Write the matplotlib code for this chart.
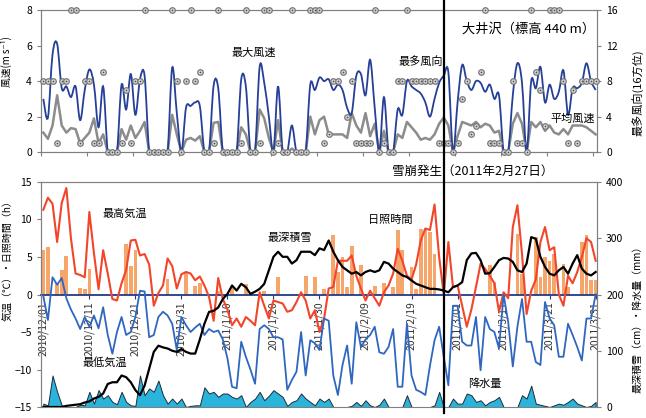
import numpy as np
import matplotlib
matplotlib.use('Agg')
import matplotlib.pyplot as plt
from matplotlib import transforms
from matplotlib.lines import Line2D
from matplotlib.path import Path
from matplotlib.patches import PathPatch

plt.rcParams['font.family'] = ['Noto Sans CJK JP', 'DejaVu Sans']

# daily data 2010/12/01 - 2011/3/31 (121 days)
days = np.arange(121)
date_labels = ['2010/12/01', '2010/12/11', '2010/12/21', '2010/12/31', '2011/1/10',
               '2011/1/20', '2011/1/30', '2011/2/09', '2011/2/19', '2011/3/01',
               '2011/3/11', '2011/3/21', '2011/3/31']
avalanche_day = 87

# max wind speed (m/s)
wmax = [3.0, 1.95, 5.5, 6.1, 3.6, 3.7, 3.1, 3.7, 1.8, 3.5,
        4.65, 3.8, 1.4, 3.7, 0, 0, 0, 3.8, 2.4, 4.4,
        2.1, 4.1, 4.3, 0, 0, 0, 0, 0, 4.75, 2.2,
        0, 2.5, 2.6, 2.8, 2.6, 0, 0, 3.75, 3.6, 0,
        0, 0, 0, 4.1, 3.7, 0, 0, 4.8, 3.9, 2.0,
        0, 3.7, 0, 0, 1.5, 0, 0, 0, 3.8, 3.5,
        4.2, 4.0, 4.1, 3.5, 3.8, 3.5, 2.5, 2.2, 4.3, 4.4,
        3.2, 5.2, 2.5, 0, 3.1, 0, 0, 2.4, 2.1, 4.0,
        3.7, 3.5, 3.3, 2.8, 2.0, 3.0, 3.9, 4.3, 4.5, 0,
        2.8, 4.9, 4.0, 3.5, 4.0, 3.9, 3.4, 3.8, 3.0, 3.2,
        0, 0, 3.2, 5.0, 3.9, 0, 4.0, 3.6, 4.8, 2.8,
        3.8, 3.0, 3.4, 4.6, 2.1, 3.6, 3.6, 3.9, 5.0, 4.0,
        3.5]
# mean wind speed (m/s)
wavg = [1.1, 0.75, 1.5, 3.2, 1.5, 1.1, 1.35, 1.3, 0.5, 0.8,
        1.1, 1.9, 0.5, 1.0, 0, 0, 0, 1.3, 0.7, 1.5,
        0.8, 1.2, 1.7, 0, 0, 0, 0, 0, 2.1, 1.0,
        0, 0.7, 0.8, 0.65, 0.9, 0, 0, 1.65, 1.7, 0,
        0, 0, 0, 1.4, 1.0, 0, 0, 2.4, 1.9, 0.8,
        0, 1.8, 0, 0, 0.2, 0, 0, 0, 2.0, 1.0,
        1.8, 2.0, 1.0, 1.0, 1.0, 1.0, 0.8, 2.2, 1.5, 1.1,
        2.2, 0.9, 1.6, 0, 1.2, 0, 0, 1.0, 0.8, 1.7,
        1.4, 1.1, 0.7, 0.8, 0.7, 1.0, 1.6, 1.95, 1.5, 0,
        0.9, 1.7, 1.6, 1.5, 1.7, 1.4, 1.6, 1.5, 1.1, 1.2,
        0, 0, 1.6, 2.2, 1.6, 0, 1.7, 1.4, 1.7, 1.2,
        1.5, 1.1, 1.0, 1.3, 1.0, 1.5, 1.5, 1.5, 1.4, 1.2,
        1.0]
# most frequent wind direction (16 points)
wdir = [8, 8, 8, 1, 8, 8, 16, 16, 1, 8,
        8, 1, 1, 9, 0, 0, 0, 1, 7, 1,
        8, 8, 16, 0, 0, 0, 0, 0, 16, 8,
        0, 8, 16, 8, 9, 0, 0, 1, 16, 0,
        0, 0, 0, 1, 16, 0, 0, 1, 16, 16,
        0, 1, 0, 0, 16, 0, 0, 0, 16, 16,
        16, 1, 2, 8, 8, 9, 4, 8, 1, 1,
        1, 1, 16, 0, 1, 0, 0, 8, 8, 16,
        8, 8, 8, 8, 8, 8, 1, 1, 1, 0,
        1, 6, 8, 2, 3, 9, 16, 1, 1, 1,
        0, 0, 8, 1, 1, 0, 16, 9, 7, 3,
        16, 16, 16, 8, 1, 7, 1, 8, 8, 8,
        8]
# max / min temperature (C)
tmax = [11.3, 12.9, 12.1, 7.0, 12.2, 14.2, 7.5, 2.8, 2.6, 2.3,
        11.0, 5.5, 0.7, 5.9, 2.8, -0.6, -0.8, 1.5, 3.3, 7.2,
        7.3, 5.2, 5.4, 4.0, -1.5, 0.2, 1.2, 4.8, 3.8, 0.8,
        2.7, 3.0, 2.8, 1.9, 2.4, 1.2, -0.3, -3.5, 2.2, -0.6,
        -2.0, -4.1, -3.2, -4.3, -3.0, -3.5, -4.1, 0.3, -1.5, -3.2,
        -0.8, -1.0, -1.2, -2.3, -2.1, -1.0, 0.3, -0.8, -3.2, -2.1,
        -5.0, -3.2, 0.8, 1.0, 4.5, 4.5, 4.5, 5.2, 2.5, 0.8,
        -0.8, 0.5, -0.5, -1.5, 0.3, 1.2, 2.8, 6.1, 4.5, 2.5,
        2.0, 4.0, 7.2, 8.8, 8.6, 12.0, 5.0, 0.0, 7.0, 1.0,
        1.2, -1.5, -4.3, -2.0, 1.0, 4.1, 3.4, 2.5, 1.5, -2.3,
        0.3, -0.5, 9.0, 11.9, 5.4, -2.6, 0.5, 2.0, 7.0, 9.0,
        5.9, 6.3, 0.0, -1.5, 2.5, 1.5, 3.0, 5.0, 7.5, 7.0,
        4.5]
tmin = [-0.2, -3.4, 2.3, 1.3, 2.2, -0.5, -2.0, -3.2, -4.6, -3.0,
        -4.3, -2.8, -4.5, -1.7, -5.4, -7.9, -5.0, -3.0, -5.4, -5.0,
        -3.0, 0.5, 0.4, -5.7, -5.4, -3.0, -2.3, -2.8, -3.9, -7.4,
        -3.0, -4.1, -5.0, -4.4, -3.9, -5.4, -4.6, -5.0, -4.8, -6.0,
        -8.5, -12.3, -12.5, -6.3, -8.3, -10.0, -11.9, -4.6, -4.1, -4.6,
        -5.7, -5.7, -6.0, -12.7, -11.4, -10.3, -5.0, -10.8, -6.1, -6.5,
        -7.4, -3.2, -3.5, -10.8, -13.4, -9.4, -6.8, -11.9, -3.7, -7.0,
        -6.0, -5.4, -4.3, -7.7, -7.9, -7.0, -4.6, -12.3, -12.3, -3.9,
        -10.8, -12.7, -13.0, -13.4, -9.5, -6.1, -4.3, -8.3, -12.1, -1.5,
        -1.5, -6.3, -6.8, -6.8, -3.0, -10.1, -3.0, -4.6, -5.0, -7.2,
        0.0, -3.7, -9.6, -4.3, -0.6, -6.3, -6.3, -9.0, -9.4, -1.0,
        -3.2, -4.1, -8.3, -8.3, -3.9, -5.4, -7.0, -8.8, -3.2, -3.2,
        0.0]
# sunshine duration (h)
sun = [6.0, 6.3, 0, 1.5, 3.3, 5.2, 0, 0, 0.9, 0.7,
       3.4, 0, 0, 0, 0, 0, 0, 0, 6.7, 3.8,
       5.9, 0, 0, 0, 0, 0, 0, 2.1, 0, 0,
       0, 2.9, 0, 1.1, 1.6, 0, 0, 0, 0.5, 0,
       0, 1.2, 0, 0, 1.4, 0, 0, 0, 0.5, 0,
       0, 2.3, 0, 0, 0, 0, 0, 2.5, 0, 2.3,
       0, 0.8, 0, 7.9, 3.0, 5.0, 1.0, 6.4, 0, 3.9,
       0, 0, 1.2, 0, 1.6, 0, 1.0, 8.6, 5.9, 0,
       3.7, 0.8, 8.7, 8.6, 8.3, 5.4, 0, 0, 0, 0,
       0, 0, 0, 0, 0, 0, 0, 3.9, 1.7, 0,
       0, 0, 0, 8.1, 2.8, 0, 0, 7.7, 2.3, 5.0,
       4.5, 5.4, 0, 4.1, 1.0, 0, 0, 7.0, 7.9, 1.9,
       1.9]
# max snow depth (cm)
snow = [0, 0, 0, 0, 0, 2, 3, 4, 5, 8,
        10, 15, 18, 24, 41, 44, 44, 56, 53, 44,
        30, 21, 38, 68, 98, 109, 106, 104, 100, 98,
        103, 98, 95, 95, 120, 148, 169, 171, 177, 192,
        201, 216, 207, 219, 213, 201, 205, 210, 219, 243,
        267, 276, 267, 267, 255, 261, 276, 276, 276, 270,
        282, 279, 296, 276, 261, 249, 243, 237, 240, 234,
        240, 243, 240, 243, 258, 255, 246, 240, 234, 231,
        225, 219, 216, 213, 210, 210, 209, 207, 204, 213,
        216, 222, 261, 273, 274, 261, 237, 238, 249, 261,
        265, 264, 258, 243, 240, 255, 302, 299, 267, 249,
        237, 234, 243, 249, 237, 255, 270, 246, 237, 234,
        240]
# precipitation (mm)
prec = [6, 3, 56, 27, 3, 0, 0, 0, 4, 3,
        27, 6, 30, 15, 21, 9, 5, 27, 9, 3,
        2, 56, 21, 33, 27, 47, 21, 6, 15, 6,
        15, 0, 2, 3, 3, 35, 24, 27, 18, 24,
        24, 18, 15, 21, 0, 9, 15, 27, 12, 20,
        30, 24, 18, 2, 9, 12, 24, 15, 9, 3,
        15, 9, 15, 0, 0, 0, 0, 2, 9, 2,
        12, 3, 0, 4, 15, 0, 0, 0, 0, 21,
        0, 0, 0, 0, 0, 3, 27, 0, 0, 15,
        6, 6, 24, 21, 9, 12, 3, 9, 12, 18,
        0, 0, 0, 0, 21, 15, 38, 6, 4, 2,
        0, 3, 6, 4, 9, 15, 6, 3, 0, 2,
        9]


def smooth_path(x, y):
    # Excel-style smoothed line: Catmull-Rom segments as cubic Beziers through the points
    pts = np.column_stack([x, y]).astype(float)
    n = len(pts)
    verts = [pts[0]]
    codes = [Path.MOVETO]
    for i in range(n - 1):
        p0 = pts[i - 1] if i > 0 else pts[i]
        p1, p2 = pts[i], pts[i + 1]
        p3 = pts[i + 2] if i + 2 < n else pts[i + 1]
        verts += [p1 + (p2 - p0) / 6, p2 - (p3 - p1) / 6, p2]
        codes += [Path.CURVE4] * 3
    return Path(verts, codes)


frame = '#808080'
fig = plt.figure(figsize=(6.46, 4.18), dpi=100)

# ---- wind panel
ax1 = fig.add_axes([0.0635, 0.636, 0.8607, 0.340])
ax1.plot(days, wavg, color='#8c8c8c', lw=1.8, zorder=2)
ax1.add_patch(PathPatch(smooth_path(days, wmax), fill=False, edgecolor='#263f97',
                        lw=1.3, zorder=3))
ax1.set_xlim(-0.5, 120.3)
ax1.set_ylim(0, 8)
ax1.set_yticks([0, 2, 4, 6, 8])
ax1.set_xticks(np.arange(-0.5, 121, 10))
ax1.set_xticklabels([])
ax1.set_ylabel('風速(m s⁻¹)', fontsize=7)
ax1.yaxis.set_label_coords(-0.052, 0.634)
ax1r = ax1.twinx()
ax1r.plot(days, wdir, ls='none', marker='o', ms=4, mfc='#dcdcdc', mec='#777777',
          mew=0.9, clip_on=False, zorder=4)
ax1r.plot(days, wdir, ls='none', marker='o', ms=1.3, mfc='#555555', mec='none',
          clip_on=False, zorder=5)
ax1r.set_ylim(0, 16)
ax1r.set_yticks([0, 4, 8, 12, 16])
ax1r.set_ylabel('最多風向(16方位)', fontsize=8)
ax1r.yaxis.set_label_coords(1.063, 0.415)
for a in (ax1, ax1r):
    for s in a.spines.values():
        s.set_color(frame)
    a.tick_params(labelsize=7.5, length=3, color=frame)

ax1.text(0.383, 0.697, '最大風速', transform=ax1.transAxes, ha='center', va='center', fontsize=8)
ax1.text(0.682, 0.634, '最多風向', transform=ax1.transAxes, ha='center', va='center', fontsize=8)
ax1.text(0.876, 0.866, '大井沢（標高 440 m）', transform=ax1.transAxes, ha='center', va='center', fontsize=9.5)
ax1.text(0.957, 0.232, '平均風速', transform=ax1.transAxes, ha='center', va='center', fontsize=8)

# ---- temperature / snow panel
ax2 = fig.add_axes([0.0635, 0.0263, 0.8607, 0.5383])
ax2.bar(days, sun, width=0.8, color='#f7a66b', zorder=1)
ax2.plot(days, tmax, color='#f2452a', lw=1.5, zorder=3)
ax2.plot(days, tmin, color='#2f67c0', lw=1.3, zorder=3)
ax2.set_xlim(-0.5, 120.3)
ax2.set_ylim(-15, 15)
ax2.set_yticks([-15, -10, -5, 0, 5, 10, 15])
ax2.spines['bottom'].set_position(('data', 0))
ax2.spines['bottom'].set_color('#1f3a8a')
ax2.spines['bottom'].set_linewidth(1.3)
ax2.spines['bottom'].set_zorder(2.5)
for k in ('left', 'right', 'top'):
    ax2.spines[k].set_color(frame)
ax2.set_xticks(days[::10])
ax2.set_xticklabels(date_labels, rotation=90, fontsize=7.5, color='#333333')
ax2.tick_params(axis='x', length=3, pad=2, color='#1f3a8a')
ax2.tick_params(axis='y', labelsize=7.5, length=3, color=frame)
ax2.set_ylabel('気温（℃）・日照時間（h）', fontsize=7.2)
ax2.yaxis.set_label_coords(-0.052, 0.66)

ax2r = ax2.twinx()
ax2r.fill_between(days, 0, prec, facecolor='#2ab4dc', edgecolor='#1c2c38', lw=0.7, zorder=2)
ax2r.plot(days, snow, color='black', lw=1.6, zorder=3)
ax2r.set_ylim(0, 400)
ax2r.set_yticks([0, 100, 200, 300, 400])
for s in ax2r.spines.values():
    s.set_color(frame)
ax2r.tick_params(labelsize=7.5, length=3, color=frame)
ax2r.set_ylabel('最深積雪（cm）・降水量（mm）', fontsize=7.2)
ax2r.yaxis.set_label_coords(1.063, 0.40)

ax2.text(0.151, 0.858, '最高気温', transform=ax2.transAxes, ha='center', va='center', fontsize=8, zorder=5)
ax2.text(0.448, 0.751, '最深積雪', transform=ax2.transAxes, ha='center', va='center', fontsize=8, zorder=5)
ax2.text(0.628, 0.831, '日照時間', transform=ax2.transAxes, ha='center', va='center', fontsize=8, zorder=5)
ax2.text(0.115, 0.196, '最低気温', transform=ax2.transAxes, ha='center', va='center', fontsize=8, zorder=5)
ax2r.text(0.799, 0.102, '降水量', transform=ax2r.transAxes, ha='center', va='center', fontsize=8)

# avalanche marker line across both panels
trans = transforms.blended_transform_factory(ax1.transData, fig.transFigure)
fig.add_artist(Line2D([avalanche_day, avalanche_day], [0.012, 1.0], transform=trans,
                      color='black', lw=1.6))
fig.text(0.607, 0.591, '雪崩発生（2011年2月27日）', ha='left', va='center', fontsize=9)

fig.savefig('out.png', dpi=100)
